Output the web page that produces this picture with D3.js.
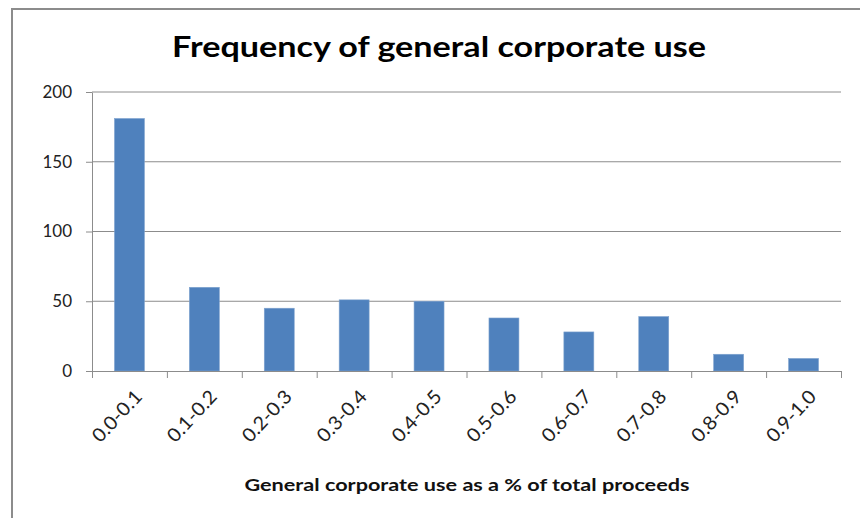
<!doctype html>
<html lang="en">
<head>
  <meta charset="utf-8">
  <title>Frequency of general corporate use</title>
  <script src="https://d3js.org/d3.v7.min.js"></script>
  <style>
    body { margin: 0; background: #fff; font-family: 'Lato', 'Open Sans', sans-serif; }
  </style>
</head>
<body>
<svg id="chart" width="860" height="518"></svg>
<script>
const categories = ["0.0-0.1","0.1-0.2","0.2-0.3","0.3-0.4","0.4-0.5","0.5-0.6","0.6-0.7","0.7-0.8","0.8-0.9","0.9-1.0"];
const counts = [181, 60, 45, 51, 50, 38, 28, 39, 12, 9];
const yTicks = [0, 50, 100, 150, 200];

const svg = d3.select("#chart");
const plot = { left: 92, right: 841, top: 92, bottom: 371 };

// outer frame (only top + left edges visible in the picture)
svg.append("path")
  .attr("d", "M12,518 V9 H860")
  .attr("fill", "none")
  .attr("stroke", "#8c8c8c")
  .attr("stroke-width", 2);

const x = d3.scaleBand().domain(categories).range([plot.left, plot.right]).paddingInner(0.6).paddingOuter(0.3);
const y = d3.scaleLinear().domain([0, 200]).range([plot.bottom, plot.top]);

// gridlines
svg.append("g")
  .selectAll("line")
  .data(yTicks.slice(1))
  .join("line")
  .attr("x1", plot.left).attr("x2", plot.right)
  .attr("y1", d => y(d)).attr("y2", d => y(d))
  .attr("stroke", "#8c8c8c").attr("stroke-width", 1);

// bars
svg.append("g")
  .selectAll("rect")
  .data(counts)
  .join("rect")
  .attr("x", (d, i) => x(categories[i]))
  .attr("y", d => y(d))
  .attr("width", x.bandwidth())
  .attr("height", d => plot.bottom - y(d))
  .attr("fill", "#4f81bd")
  .attr("stroke", "#7fa3cf")
  .attr("stroke-width", 0.6);

// y axis
const yAxis = svg.append("g")
  .attr("transform", `translate(${plot.left},0)`)
  .call(d3.axisLeft(y).tickValues(yTicks).tickSize(6).tickSizeOuter(0).tickPadding(14));
yAxis.select(".domain").attr("stroke", "#8c8c8c");
yAxis.selectAll(".tick line").attr("stroke", "#8c8c8c");
yAxis.selectAll("text")
  .attr("font-family", "Lato, 'Open Sans', sans-serif")
  .attr("font-size", 17).attr("fill", "#222");

// x axis: ticks at band boundaries
const xb = d3.scaleLinear().domain([0, categories.length]).range([plot.left, plot.right]);
const xAxis = svg.append("g")
  .attr("transform", `translate(0,${plot.bottom})`)
  .call(d3.axisBottom(xb).tickValues(d3.range(categories.length + 1)).tickSize(7).tickFormat(""));
xAxis.select(".domain").attr("stroke", "#8c8c8c");
xAxis.selectAll(".tick line").attr("stroke", "#8c8c8c");

svg.append("g")
  .selectAll("text")
  .data(categories)
  .join("text")
  .attr("transform", d => `translate(${x(d) + x.bandwidth() / 2 + 9},393) rotate(-47)`)
  .attr("text-anchor", "end")
  .attr("dy", "0.35em")
  .attr("font-size", 19)
  .attr("textLength", 63).attr("lengthAdjust", "spacingAndGlyphs")
  .attr("fill", "#222")
  .text(d => d);

// title
svg.append("text")
  .attr("x", 439).attr("y", 57)
  .attr("text-anchor", "middle")
  .attr("font-size", 29).attr("font-weight", "bold")
  .attr("textLength", 534).attr("lengthAdjust", "spacingAndGlyphs")
  .attr("fill", "#000")
  .text("Frequency of general corporate use");

// x axis title
svg.append("text")
  .attr("x", 467).attr("y", 491)
  .attr("text-anchor", "middle")
  .attr("font-size", 17).attr("font-weight", "bold")
  .attr("textLength", 445).attr("lengthAdjust", "spacingAndGlyphs")
  .attr("fill", "#111")
  .text("General corporate use as a % of total proceeds");
</script>
</body>
</html>
